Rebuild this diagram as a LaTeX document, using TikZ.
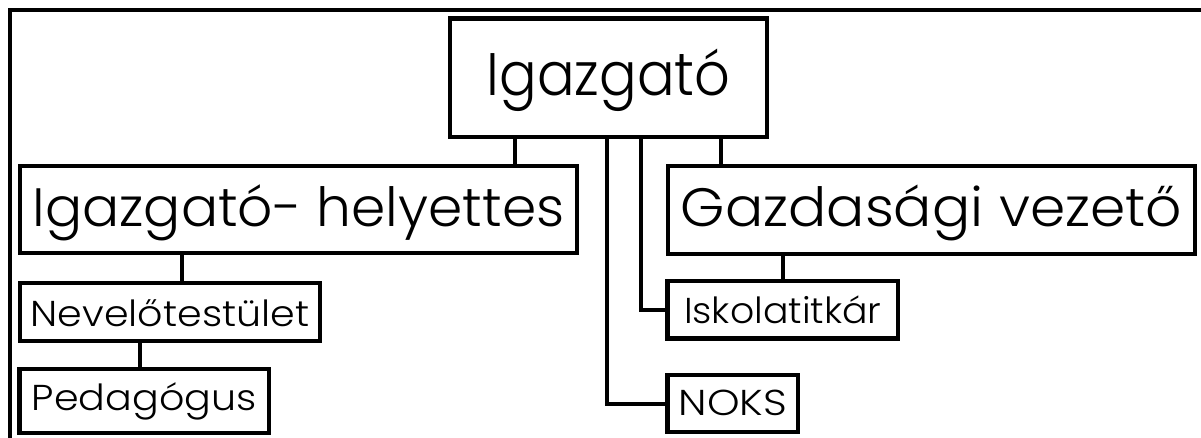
\documentclass[tikz,border=0pt]{standalone}
\usepackage{fontspec}
\usepackage{graphicx}
\setmainfont{Poppins Light}
% horizontal stretch of a label
\newcommand\hstretch[2]{\scalebox{#1}[1]{#2}}
\begin{document}
\begin{tikzpicture}[x=1pt,y=-1pt,
  unit/.style={draw=black, line width=4.2pt, fill=white, inner sep=0pt, outer sep=0pt,
    rectangle, text depth=0pt, align=center},
  link/.style={draw=black, line width=4pt},
  frameline/.style={draw=black, line width=4pt},
  big/.style={font=\fontsize{60}{60}\selectfont},
  mid/.style={font=\fontsize{54}{54}\selectfont},
  small/.style={font=\fontsize{36}{36}\selectfont}]
\useasboundingbox (0,0) rectangle (1201,437);

% page frame (top and left edges)
\coordinate (ftr) at (1205,9.5);
\coordinate (ftl) at (9.5,9.5);
\coordinate (fbl) at (9.5,441);
\draw[frameline] (ftr) -- (ftl) -- (fbl);

% boxes
\node[unit, big, minimum width=317pt, minimum height=118.5pt, text height=34.5pt]
  (dir) at (608.5,77.75) {\hstretch{0.93}{Igazgató}};
\node[unit, mid, minimum width=557pt, minimum height=87pt, text height=33pt]
  (dep) at (298.5,209.5) {\hstretch{1.02}{Igazgató- helyettes}};
\node[unit, mid, minimum width=527pt, minimum height=88pt, text height=32pt]
  (eco) at (931.5,210) {\hstretch{1.05}{Gazdasági vezető}};
\node[unit, small, minimum width=300pt, minimum height=58pt, text height=28pt]
  (nev) at (170,312) {\hstretch{1.1}{Nevelőtestület}};
\node[unit, small, minimum width=249.5pt, minimum height=64pt, text height=18pt]
  (ped) at (144.25,401) {\hstretch{1.1}{Pedagógus}};
\node[unit, small, minimum width=230.5pt, minimum height=57.5pt, text height=26.5pt]
  (isk) at (782.75,309.75) {\hstretch{1.05}{Iskolatitkár}};
\node[unit, small, minimum width=130.5pt, minimum height=57pt, text height=23pt]
  (noks) at (732.75,403.5) {\hstretch{1.15}{NOKS}};

% connectors
\draw[link] (dir.south -| 515,0) -- (dep.north -| 515,0);
\draw[link] (dir.south -| 721,0) -- (eco.north -| 721,0);
\draw[link] (dir.south -| 607,0) |- (noks.west);
\draw[link] (dir.south -| 640.5,0) |- (isk.west);
\draw[link] (eco.south -| 783,0) -- (isk.north -| 783,0);
\draw[link] (dep.south -| 182,0) -- (nev.north -| 182,0);
\draw[link] (nev.south -| 140,0) -- (ped.north -| 140,0);
\end{tikzpicture}
\end{document}
